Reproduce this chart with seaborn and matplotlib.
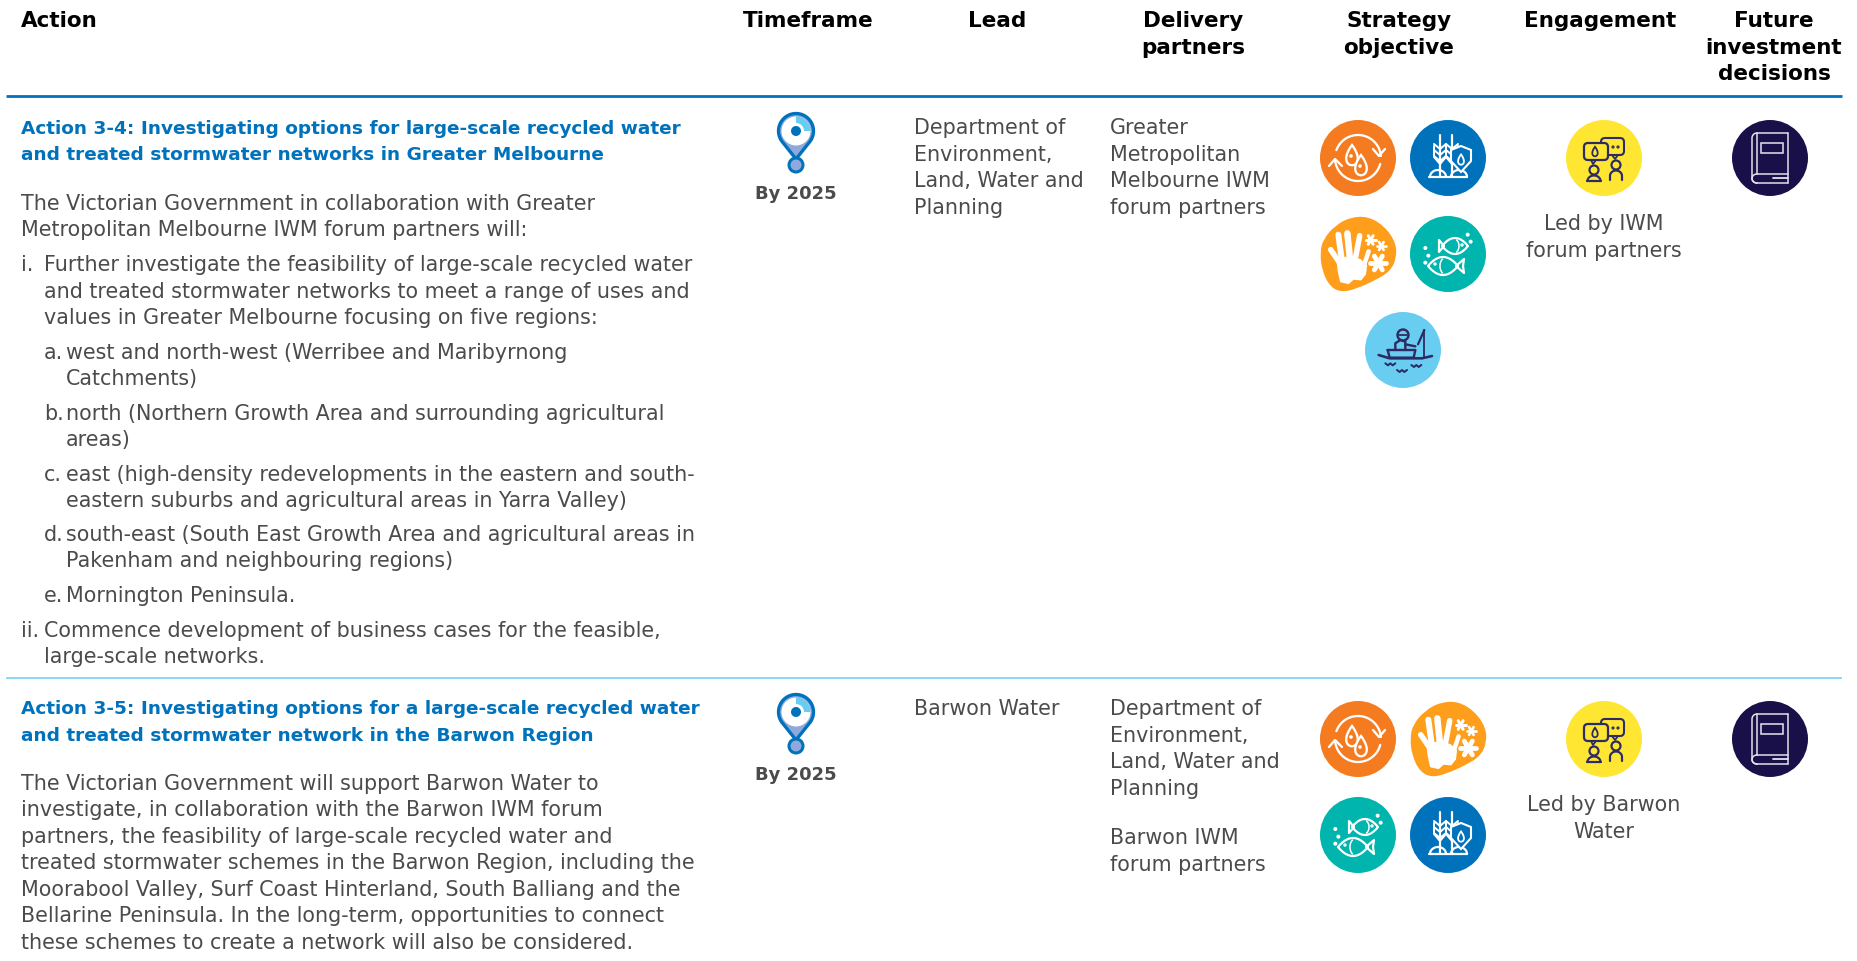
import numpy as np
import pandas as pd
import seaborn as sns
import matplotlib.pyplot as plt
from matplotlib.patches import Polygon, Circle, Wedge, FancyBboxPatch, PathPatch
from matplotlib.path import Path

BODY_FONT = "DejaVu Sans"
HEAD_FONT = "DejaVu Sans"
GREY = "#4b4b4d"
BLUE = "#0072bc"
SKY = "#69cdf2"
INK = "#2d2b63"

headers = ["Action", "Timeframe", "Lead", "Delivery\npartners", "Strategy\nobjective",
           "Engagement", "Future\ninvestment\ndecisions"]

row1_title = ["Action 3-4: Investigating options for large-scale recycled water",
              "and treated stormwater networks in Greater Melbourne"]
row1_body = [
    ("", "The Victorian Government in collaboration with Greater"),
    ("", "Metropolitan Melbourne IWM forum partners will:"),
    ("i.", "Further investigate the feasibility of large-scale recycled water"),
    ("", "and treated stormwater networks to meet a range of uses and"),
    ("", "values in Greater Melbourne focusing on five regions:"),
    ("a.", "west and north-west (Werribee and Maribyrnong"),
    ("", "Catchments)"),
    ("b.", "north (Northern Growth Area and surrounding agricultural"),
    ("", "areas)"),
    ("c.", "east (high-density redevelopments in the eastern and south-"),
    ("", "eastern suburbs and agricultural areas in Yarra Valley)"),
    ("d.", "south-east (South East Growth Area and agricultural areas in"),
    ("", "Pakenham and neighbouring regions)"),
    ("e.", "Mornington Peninsula."),
    ("ii.", "Commence development of business cases for the feasible,"),
    ("", "large-scale networks."),
]
row1_indent = [0, 0, 1, 1, 1, 2, 2, 2, 2, 2, 2, 2, 2, 2, 1, 1]
row1_lead = ["Department of", "Environment,", "Land, Water and", "Planning"]
row1_partners = ["Greater", "Metropolitan", "Melbourne IWM", "forum partners"]
row1_engage = ["Led by IWM", "forum partners"]
row1_objectives = ["recycle", "wheat", "hand", "fish", "fishing"]

row2_title = ["Action 3-5: Investigating options for a large-scale recycled water",
              "and treated stormwater network in the Barwon Region"]
row2_body = ["The Victorian Government will support Barwon Water to",
             "investigate, in collaboration with the Barwon IWM forum",
             "partners, the feasibility of large-scale recycled water and",
             "treated stormwater schemes in the Barwon Region, including the",
             "Moorabool Valley, Surf Coast Hinterland, South Balliang and the",
             "Bellarine Peninsula. In the long-term, opportunities to connect",
             "these schemes to create a network will also be considered."]
row2_lead = ["Barwon Water"]
row2_partners = ["Department of", "Environment,", "Land, Water and", "Planning", "",
                 "Barwon IWM", "forum partners"]
row2_engage = ["Led by Barwon", "Water"]
row2_objectives = ["recycle", "hand", "fish", "wheat"]
timeframe = "By 2025"

icon_colours = {"recycle": "#f47b20", "wheat": "#0072bc", "hand": "#ff9e1b", "fish": "#00b5ad",
                "fishing": "#69cdf2", "people": "#ffe633", "book": "#1a1049"}

# layout, in reference pixels
ROW_SHIFT = 581
BODY_SIZE = 14.85
TITLE_SIZE = 13.3
LINE = 26.6
LEFT = 21
X_MARK = {0: 21, 1: 21, 2: 44}
X_TEXT = {0: 21, 1: 44, 2: 66}
ROW1_BODY_Y = [210, 236.5, 271.5, 298, 324.5, 359, 385.5, 420, 446.5, 481, 507.5, 541, 567.5, 602, 637, 663.5]
ROW2_BODY_Y = [790, 816.5, 843, 869.5, 896, 922.5, 949]
HEAD_X = [21, 808, 997, 1193, 1399, 1600, 1774]


def body(ax, x, y, s, ha="left", weight="normal", color=GREY, size=BODY_SIZE):
    ax.text(x, y, s, ha=ha, va="baseline", fontsize=size, color=color, weight=weight, family=BODY_FONT)


def line(ax, pts, c, lw=2.0, z=5):
    pts = np.asarray(pts, dtype=float)
    ax.plot(pts[:, 0], pts[:, 1], color=c, lw=lw * 0.72, solid_capstyle="round",
            solid_joinstyle="round", zorder=z)


def arc(cx, cy, rx, ry, a0, a1):
    t = np.radians(np.linspace(a0, a1, 40))
    return np.column_stack([cx + rx * np.cos(t), cy + ry * np.sin(t)])


def drop_pts(cx, cy, r):
    t = np.linspace(0, 2 * np.pi, 60)
    return np.column_stack([cx + r * np.sin(t) * np.sin(t / 2), cy - 1.35 * r * np.cos(t) + 0.15 * r])


def drop(ax, cx, cy, r, edge, face, lw=2.0, z=5):
    ax.add_patch(Polygon(drop_pts(cx, cy, r), closed=True, fc=face, ec=edge, lw=lw * 0.72, zorder=z))


def ring(ax, cx, cy, r, edge, face="none", lw=2.0, z=5):
    ax.add_patch(Circle((cx, cy), r, fc=face, ec=edge, lw=lw * 0.72, zorder=z))


def draw_recycle(ax, x, y):
    w, c = "white", icon_colours["recycle"]
    line(ax, arc(x, y, 23, 23, 200, 355), w, 2.3)
    line(ax, arc(x, y, 23, 23, 15, 172), w, 2.3)
    line(ax, [(x + 15, y - 9), (x + 21, y - 2), (x + 27, y - 9)], w, 2.3)
    line(ax, [(x - 29, y + 8), (x - 23, y + 1), (x - 16, y + 8)], w, 2.3)
    drop(ax, x - 6, y - 4, 7.5, w, c, 2.3, z=5)
    drop(ax, x + 3, y + 6, 7.5, w, c, 2.3, z=6)
    ring(ax, x - 7, y - 2, 0.8, w, w, z=7)
    ring(ax, x + 2, y + 8, 0.8, w, w, z=7)


def draw_wheat(ax, x, y):
    w, c = "white", icon_colours["wheat"]
    for sx in (x - 8, x + 4):
        line(ax, [(sx, y - 23), (sx, y + 18)], w, 2.2)
        line(ax, [(sx - 6, y - 12), (sx - 6, y - 1), (sx, y + 6), (sx + 6, y - 1), (sx + 6, y - 12)], w, 2.0)
        for dy in (-14, -8, -2):
            line(ax, [(sx - 6, y + dy), (sx, y + dy + 5), (sx + 6, y + dy)], w, 2.0)
    line(ax, [(x - 19, y + 19), (x + 19, y + 19)], w, 2.2)
    line(ax, arc(x - 10, y + 19, 8, 7, 180, 360), w, 2.2)
    line(ax, arc(x + 11, y + 19, 8, 7, 180, 360), w, 2.2)
    shield = [(x + 13, y - 12), (x + 3, y - 8), (x + 3, y + 3), (x + 13, y + 14), (x + 23, y + 3), (x + 23, y - 8)]
    ax.add_patch(Polygon(shield, closed=True, fc=c, ec=w, lw=1.5, zorder=6))
    drop(ax, x + 13, y + 1, 3.8, w, c, 1.8, z=7)


def draw_snow(ax, x, y, r):
    for a in (0, 60, 120):
        t = np.radians(a)
        dx, dy = r * np.cos(t), r * np.sin(t)
        line(ax, [(x - dx, y - dy), (x + dx, y + dy)], "white", r * 0.6)


def draw_hand(ax, x, y):
    c = icon_colours["hand"]
    outline = [(30, 125), (40, 85), (75, 45), (120, 20), (175, 17), (225, 48), (257, 95), (260, 140), (242, 180),
               (200, 207), (140, 234), (95, 245), (60, 228), (36, 180)]
    pts = [(x + (a - 144) / 3, y + (b - 130) / 3) for a, b in outline]
    mids = [((pts[i][0] + pts[i - 1][0]) / 2, (pts[i][1] + pts[i - 1][1]) / 2) for i in range(len(pts))]
    verts = [mids[0]]
    codes = [Path.MOVETO]
    for i in range(len(pts)):
        verts += [pts[i], mids[(i + 1) % len(pts)]]
        codes += [Path.CURVE3, Path.CURVE3]
    ax.add_patch(PathPatch(Path(verts, codes), fc=c, ec="none", zorder=3))
    rel = lambda a, b: (x + (a - 144) / 3, y + (b - 130) / 3)
    palm = [rel(82, 145), rel(120, 140), rel(150, 148), rel(168, 165), rel(165, 190), rel(152, 206), rel(130, 204),
            rel(115, 217), rel(93, 212), rel(86, 180)]
    ax.add_patch(Polygon(palm, closed=True, fc="white", ec="white", lw=1.5, zorder=5))
    for a, b, wd in [((62, 117), (88, 155), 5.5), ((85, 72), (95, 145), 6), ((112, 68), (120, 145), 6.5),
                     ((149, 75), (136, 145), 5.5), ((176, 122), (163, 160), 4.5)]:
        line(ax, [rel(*a), rel(*b)], "white", wd)
    draw_snow(ax, *rel(182, 88), 5)
    draw_snow(ax, *rel(214, 106), 4.5)
    draw_snow(ax, *rel(205, 157), 8)


def fish_outline(cx, cy, hw, hh):
    t = np.linspace(-1, 1, 30)
    top = np.column_stack([cx + hw * t, cy - hh * (1 - t ** 2)])
    bot = np.column_stack([cx - hw * t, cy + hh * (1 - t ** 2)])
    return np.vstack([top, bot, top[:1]])


def draw_fish(ax, x, y):
    w = "white"
    line(ax, fish_outline(x + 7, y - 8, 13, 8), w, 2.2)
    line(ax, [(x - 4, y - 8), (x - 9, y - 14), (x - 9, y - 2), (x - 4, y - 8)], w, 2.2)
    line(ax, arc(x + 6, y - 8, 5, 7, -60, 60), w, 1.5)
    ring(ax, x + 14, y - 9, 0.7, w, w)
    line(ax, fish_outline(x - 5, y + 12, 15, 9), w, 2.2)
    line(ax, [(x + 8, y + 12), (x + 16, y + 5), (x + 15, y + 12), (x + 16, y + 19), (x + 8, y + 12)], w, 2.2)
    line(ax, arc(x - 3, y + 12, 5, 8, 120, 240), w, 1.5)
    ring(ax, x - 13, y + 10, 0.7, w, w)
    for a, b in [(349, 112), (358, 135), (349, 156), (476, 72), (485, 93)]:
        ring(ax, x + (a - 417) / 3, y + (b - 130) / 3, 1.0, w, w)


def draw_fishing(ax, x, y):
    rel = lambda a, b: (x + (a - 158) / 3, y + (b - 135) / 3)
    ring(ax, *rel(158, 90), 5.5, INK, "none", 2.4)
    line(ax, [rel(146, 90), rel(170, 90)], INK, 1.8)
    line(ax, [rel(135, 135), rel(135, 115), rel(150, 105), rel(165, 110), rel(165, 135)], INK, 2.4)
    line(ax, [rel(165, 118), rel(195, 124)], INK, 2.4)
    line(ax, [rel(222, 75), rel(203, 118)], INK, 2.2)
    line(ax, [rel(222, 75), rel(222, 158)], INK, 1.8)
    line(ax, [rel(112, 135), rel(195, 135), rel(190, 158), rel(118, 158), rel(112, 135)], INK, 2.4)
    line(ax, [rel(85, 150), rel(118, 160), rel(215, 160), rel(245, 153)], INK, 2.6)
    for a, b in [(120, 178), (198, 183), (155, 198)]:
        line(ax, [rel(a - 15, b - 3), rel(a - 7, b + 3), rel(a, b - 3), rel(a + 7, b + 3), rel(a + 15, b - 3)], INK, 2.0)


def draw_people(ax, x, y):
    c = icon_colours["people"]
    ax.add_patch(FancyBboxPatch((x - 3, y - 20), 23, 17, boxstyle="round,pad=0,rounding_size=4",
                                fc=c, ec=INK, lw=1.5, zorder=4))
    line(ax, [(x + 8, y - 3), (x + 11, y + 1), (x + 14, y - 3)], INK, 1.8, z=4)
    ax.add_patch(FancyBboxPatch((x - 20, y - 15), 24, 17, boxstyle="round,pad=0,rounding_size=4",
                                fc=c, ec=INK, lw=1.6, zorder=5))
    line(ax, [(x - 13, y + 2), (x - 11, y + 6), (x - 8, y + 2)], INK, 1.8)
    drop(ax, x - 9, y - 7, 3.5, INK, c, 1.8, z=6)
    ring(ax, x + 9, y - 11, 0.6, INK, INK)
    ring(ax, x + 14, y - 11, 0.6, INK, INK)
    ring(ax, x - 10, y + 12, 4.5, INK, "none", 2.2)
    line(ax, arc(x - 10, y + 23, 6.5, 5.5, 180, 360), INK, 2.2)
    line(ax, [(x - 17, y + 23), (x - 3, y + 23)], INK, 2.2)
    ring(ax, x + 12, y + 7, 4.5, INK, "none", 2.2)
    line(ax, np.vstack([[(x + 6, y + 22)], arc(x + 12, y + 18, 6, 5.5, 180, 360), [(x + 18, y + 22)]]), INK, 2.2)


def draw_book(ax, x, y):
    w = "#e4e4ee"
    line(ax, [(x + 18, y + 16), (x - 13, y + 16)], w, 1.5)
    line(ax, [(x + 18, y + 25), (x - 13, y + 25)], w, 1.5)
    line(ax, [(x + 18, y - 25), (x + 18, y + 25)], w, 1.5)
    line(ax, np.vstack([[(x + 18, y - 25), (x - 13, y - 25)], arc(x - 13, y - 20, 5, 5, 270, 180),
                        [(x - 18, y + 20)], arc(x - 13, y + 20.5, 5, 4.5, 180, 90)]), w, 1.5)
    line(ax, [(x - 13, y - 25), (x - 13, y + 16)], w, 1.5)
    line(ax, arc(x - 13, y + 20.5, 5, 4.5, 90, 270), w, 1.5)
    line(ax, [(x + 3, y + 19.5), (x + 18, y + 19.5)], w, 1.8)
    ax.add_patch(plt.Rectangle((x - 9, y - 15), 22, 10, fc="none", ec=w, lw=1.1, zorder=5))


def draw_pin(ax, x, y):
    # x, y is the centre of the pin head
    peri = "#8fa9dc"
    tip_y = y + 28
    head = arc(x, y, 17.5, 17.5, 145, 395)
    body_pts = np.vstack([head, [(x, tip_y)]])
    ax.add_patch(Polygon(body_pts, closed=True, fc=peri, ec=BLUE, lw=2.4, zorder=4))
    ring(ax, x, y + 34, 7, BLUE, peri, 3, z=5)
    ax.add_patch(Circle((x, y), 14.5, fc="white", ec="none", zorder=5))
    ax.add_patch(Wedge((x, y), 14.5, -90, 0, fc=SKY, ec="none", zorder=6))
    ax.add_patch(Circle((x, y), 8, fc="white", ec="none", zorder=7))
    ax.add_patch(Circle((x, y), 5, fc=BLUE, ec="none", zorder=8))


drawers = {"recycle": draw_recycle, "wheat": draw_wheat, "hand": draw_hand, "fish": draw_fish,
           "fishing": draw_fishing, "people": draw_people, "book": draw_book}


def icon_table():
    # lays the icons of each row out on the column grid
    rows = []
    for shift, objectives in ((0, row1_objectives), (ROW_SHIFT, row2_objectives)):
        for i, name in enumerate(objectives):
            if i == 4:
                rows.append((name, 1403, 351 + shift))
            else:
                rows.append((name, 1358 + 90 * (i % 2), 159 + 96 * (i // 2) + shift))
        rows.append(("people", 1604, 159 + shift))
        rows.append(("book", 1770, 159 + shift))
    return pd.DataFrame(rows, columns=["icon", "x", "y"])


def main():
    sns.set_theme(style="white")
    plt.rcParams["font.family"] = [BODY_FONT]
    fig = plt.figure(figsize=(18.58, 9.62), dpi=100, facecolor="white")
    ax = fig.add_axes([0, 0, 1, 1])

    icons = icon_table()
    round_icons = icons[icons["icon"] != "hand"]
    sns.scatterplot(data=round_icons, x="x", y="y", hue="icon", palette=icon_colours, s=(76 * 0.72) ** 2,
                    linewidth=0, legend=False, ax=ax, zorder=3)
    ax.set_xlim(0, 1858)
    ax.set_ylim(962, 0)
    ax.axis("off")

    for _, r in icons.iterrows():
        drawers[r["icon"]](ax, r["x"], r["y"])

    # header
    for i, (h, hx) in enumerate(zip(headers, HEAD_X)):
        for j, part in enumerate(h.split("\n")):
            ax.text(hx, 27 + j * 26.7, part, ha="left" if i == 0 else "center", va="baseline", fontsize=15.5,
                    weight="bold", color="black", family=HEAD_FONT)
    ax.plot([6, 1842], [96.5, 96.5], color=BLUE, lw=2.0, solid_capstyle="butt")
    ax.plot([6, 1842], [678.5, 678.5], color=SKY, lw=1.1, solid_capstyle="butt")

    # action column
    for j, s in enumerate(row1_title):
        body(ax, LEFT, 133.5 + j * 27, s, weight="bold", color=BLUE, size=TITLE_SIZE)
    for (mark, s), level, ly in zip(row1_body, row1_indent, ROW1_BODY_Y):
        if mark:
            body(ax, X_MARK[level], ly, mark)
        body(ax, X_TEXT[level], ly, s)
    for j, s in enumerate(row2_title):
        body(ax, LEFT, 133.5 + ROW_SHIFT + j * 27, s, weight="bold", color=BLUE, size=TITLE_SIZE)
    for s, ly in zip(row2_body, ROW2_BODY_Y):
        body(ax, LEFT, ly, s)

    # timeframe, lead, partners, engagement
    for shift in (0, ROW_SHIFT):
        draw_pin(ax, 796, 132 + shift)
        body(ax, 796, 199 + shift, timeframe, ha="center", weight="bold", size=13)
    for j, s in enumerate(row1_lead):
        body(ax, 914, 134 + j * LINE, s)
    for j, s in enumerate(row1_partners):
        body(ax, 1110, 134 + j * LINE, s)
    for j, s in enumerate(row1_engage):
        body(ax, 1604, 230 + j * LINE, s, ha="center")
    for j, s in enumerate(row2_lead):
        body(ax, 914, 134 + ROW_SHIFT + j * LINE, s)
    for j, s in enumerate(row2_partners):
        if s:
            body(ax, 1110, 134 + ROW_SHIFT + j * LINE - (j > 4) * 4, s)
    for j, s in enumerate(row2_engage):
        body(ax, 1604, 230 + ROW_SHIFT + j * LINE, s, ha="center")

    fig.savefig("out.png", dpi=100)


if __name__ == '__main__':
    main()
